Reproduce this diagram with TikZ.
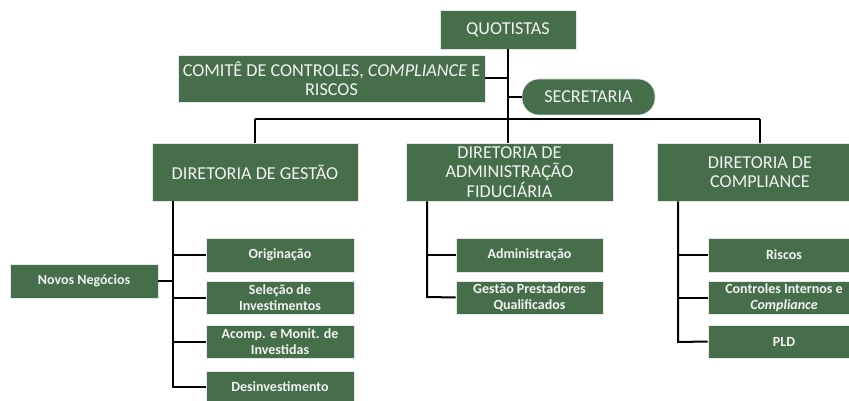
\documentclass[tikz,border=0pt]{standalone}
\usepackage{fontspec}
\setmainfont{Carlito}
\definecolor{boxgreen}{HTML}{466E4B}
\definecolor{boxtext}{HTML}{F2F2F2}
\begin{document}
\begin{tikzpicture}[x=1pt,y=-1pt,
  big/.style={fill=boxgreen,text=boxtext,inner sep=0pt,align=center,font=\fontsize{18.2}{19.5}\selectfont,draw=white!85!boxgreen,line width=0.6pt},
  small/.style={fill=boxgreen,text=boxtext,inner sep=0pt,align=center,font=\fontsize{14}{16.5}\selectfont\bfseries,draw=white!85!boxgreen,line width=0.6pt},
  conn/.style={line width=2pt,black}]
\useasboundingbox (0,0) rectangle (849,401);
% top
\node[big,minimum width=136pt,minimum height=39pt] (quot) at (508,29.5) {QUOTISTAS};
\node[big,minimum width=307pt,minimum height=47pt] (comite) at (331.5,78.5) {COMITÊ DE CONTROLES, \textit{COMPLIANCE} E\\RISCOS};
\node[big,rounded corners=17pt,minimum width=133pt,minimum height=36pt] (secr) at (588.5,97) {SECRETARIA};
% directorates
\node[big,minimum width=206pt,minimum height=58pt] (gest) at (255,172) {DIRETORIA DE GESTÃO};
\node[big,minimum width=207pt,minimum height=58pt] (adm) at (509.5,172) {DIRETORIA DE\\ADMINISTRAÇÃO\\FIDUCIÁRIA};
\node[big,minimum width=206pt,minimum height=58pt] (comp) at (760,172) {DIRETORIA DE\\COMPLIANCE};
% gestao items
\node[small,minimum width=148pt,minimum height=34pt] (orig) at (280,255) {Originação};
\node[small,minimum width=148pt,minimum height=33pt] (sel) at (280,297.5) {Seleção de\\Investimentos};
\node[small,minimum width=148pt,minimum height=33pt] (acomp) at (280,341.5) {Acomp. e Monit. de\\Investidas};
\node[small,minimum width=148pt,minimum height=32pt] (desinv) at (280,387) {Desinvestimento};
\node[small,minimum width=148pt,minimum height=34pt] (novos) at (84,281) {Novos Negócios};
% adm items
\node[small,minimum width=147pt,minimum height=34pt] (admi) at (529.5,255) {Administração};
\node[small,minimum width=147pt,minimum height=33pt] (gpq) at (529.5,297.5) {Gestão Prestadores\\Qualificados};
% compliance items
\node[small,minimum width=152pt,minimum height=34pt] (risc) at (784,255) {Riscos};
\node[small,minimum width=152pt,minimum height=33pt] (ctrl) at (784,297.5) {Controles Internos e\\\textit{Compliance}};
\node[small,minimum width=152pt,minimum height=33pt] (pld) at (784,341.5) {PLD};
% coordinates
\coordinate (bus) at (508,119);
\coordinate (busL) at (255,119);
\coordinate (busR) at (760,119);
\coordinate (gv) at (173,387);
\coordinate (av) at (427,297);
\coordinate (cv) at (678,342);
% connectors
\draw[conn] (quot.south) -- (bus);
\draw[conn] (comite.east) -- (comite.east -| quot.south);
\draw[conn] (secr.west) -- (secr.west -| quot.south);
\draw[conn] (busL) -- (busR);
\draw[conn] (busL) -- (gest.north);
\draw[conn] (bus) -- (adm.north -| bus);
\draw[conn] (busR) -- (comp.north);
\draw[conn] (gest.south -| gv) -- (gv) -- (desinv.west);
\draw[conn] (orig.west) -- (orig.west -| gv);
\draw[conn] (sel.west) -- (sel.west -| gv);
\draw[conn] (acomp.west) -- (acomp.west -| gv);
\draw[conn] (novos.east) -- (novos.east -| gv);
\draw[conn] (adm.south -| av) -- (av) -- (gpq.west);
\draw[conn] (admi.west) -- (admi.west -| av);
\draw[conn] (comp.south -| cv) -- (cv) -- (pld.west);
\draw[conn] (risc.west) -- (risc.west -| cv);
\draw[conn] (ctrl.west) -- (ctrl.west -| cv);
\end{tikzpicture}
\end{document}
